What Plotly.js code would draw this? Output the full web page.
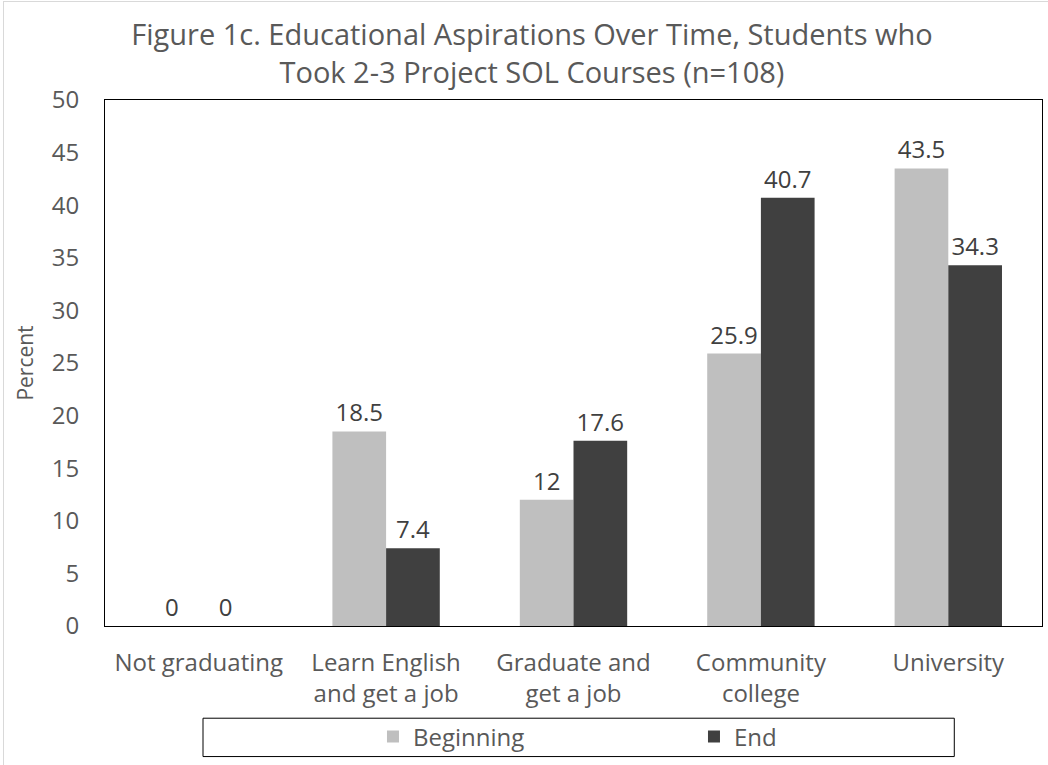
<!DOCTYPE html>
<html>
<head>
<meta charset="utf-8">
<script src="https://cdn.plot.ly/plotly-3.0.1.min.js"></script>
<style>
  html, body { margin: 0; padding: 0; background: #fff; overflow: hidden; }
  #chart { width: 1048px; height: 765px; }
  #frame { position: absolute; left: 3px; top: 1px; width: 1100px; height: 800px; border: 1px solid #d9d9d9; pointer-events: none; }
</style>
</head>
<body>
<div id="chart"></div>
<div id="frame"></div>
<script>
const categories = ["Not graduating", "Learn English<br>and get a job", "Graduate and<br>get a job", "Community<br>college", "University"];
const beginningValues = [0, 18.5, 12, 25.9, 43.5];
const endValues = [0, 7.4, 17.6, 40.7, 34.3];
const seriesNames = ["Beginning", "End"];
const titleText = "Figure 1c. Educational Aspirations Over Time, Students who<br>Took 2-3 Project SOL Courses (n=108)";
const yTitle = "Percent";

const FONT = "Open Sans, sans-serif";
const TEXT = "#595959";

const traces = [
  {
    type: "bar", name: seriesNames[0], x: categories, y: beginningValues,
    marker: { color: "#bfbfbf" },
    text: beginningValues.map(String), textposition: "outside",
    textfont: { family: FONT, size: 24, color: "#404040" },
    cliponaxis: false
  },
  {
    type: "bar", name: seriesNames[1], x: categories, y: endValues,
    marker: { color: "#404040" },
    text: endValues.map(String), textposition: "outside",
    textfont: { family: FONT, size: 24, color: "#404040" },
    cliponaxis: false
  }
];

const layout = {
  width: 1048, height: 765,
  margin: { l: 105, r: 6, t: 99.5, b: 139 },
  paper_bgcolor: "#fff", plot_bgcolor: "#fff",
  font: { family: FONT, color: TEXT, size: 24 },
  title: {
    text: titleText, font: { family: FONT, size: 29, color: TEXT },
    x: 0.5076, xref: "container", xanchor: "center",
    y: 0.941, yref: "container", yanchor: "top"
  },
  barmode: "group", bargap: 0.427, bargroupgap: 0,
  xaxis: {
    showline: true, mirror: true, linecolor: "#000", linewidth: 1,
    showgrid: false, ticks: "", ticklabelstandoff: 15,
    tickfont: { family: FONT, size: 24, color: TEXT }, fixedrange: true
  },
  yaxis: {
    range: [0, 50], dtick: 5, tick0: 0,
    showline: true, mirror: true, linecolor: "#000", linewidth: 1,
    showgrid: false, zeroline: false, ticks: "", ticklabelstandoff: 20,
    tickfont: { family: FONT, size: 24, color: TEXT },
    title: { text: yTitle, font: { family: FONT, size: 21, color: TEXT }, standoff: 12 },
    fixedrange: true
  },
  showlegend: true,
  legend: {
    orientation: "h", x: 0.286, xanchor: "left", y: -0.211, yanchor: "middle",
    font: { family: FONT, size: 24, color: TEXT }, entrywidth: 276,
    bgcolor: "rgba(0,0,0,0)", borderwidth: 0, traceorder: "normal"
  },
  shapes: [
    { type: "rect", xref: "paper", yref: "paper", x0: 0.1046, x1: 0.9064, y0: -0.1753, y1: -0.2482,
      line: { color: "#000", width: 1 }, fillcolor: "rgba(0,0,0,0)", layer: "below" }
  ]
};

Plotly.newPlot("chart", traces, layout, { displayModeBar: false, staticPlot: true });
</script>
</body>
</html>
